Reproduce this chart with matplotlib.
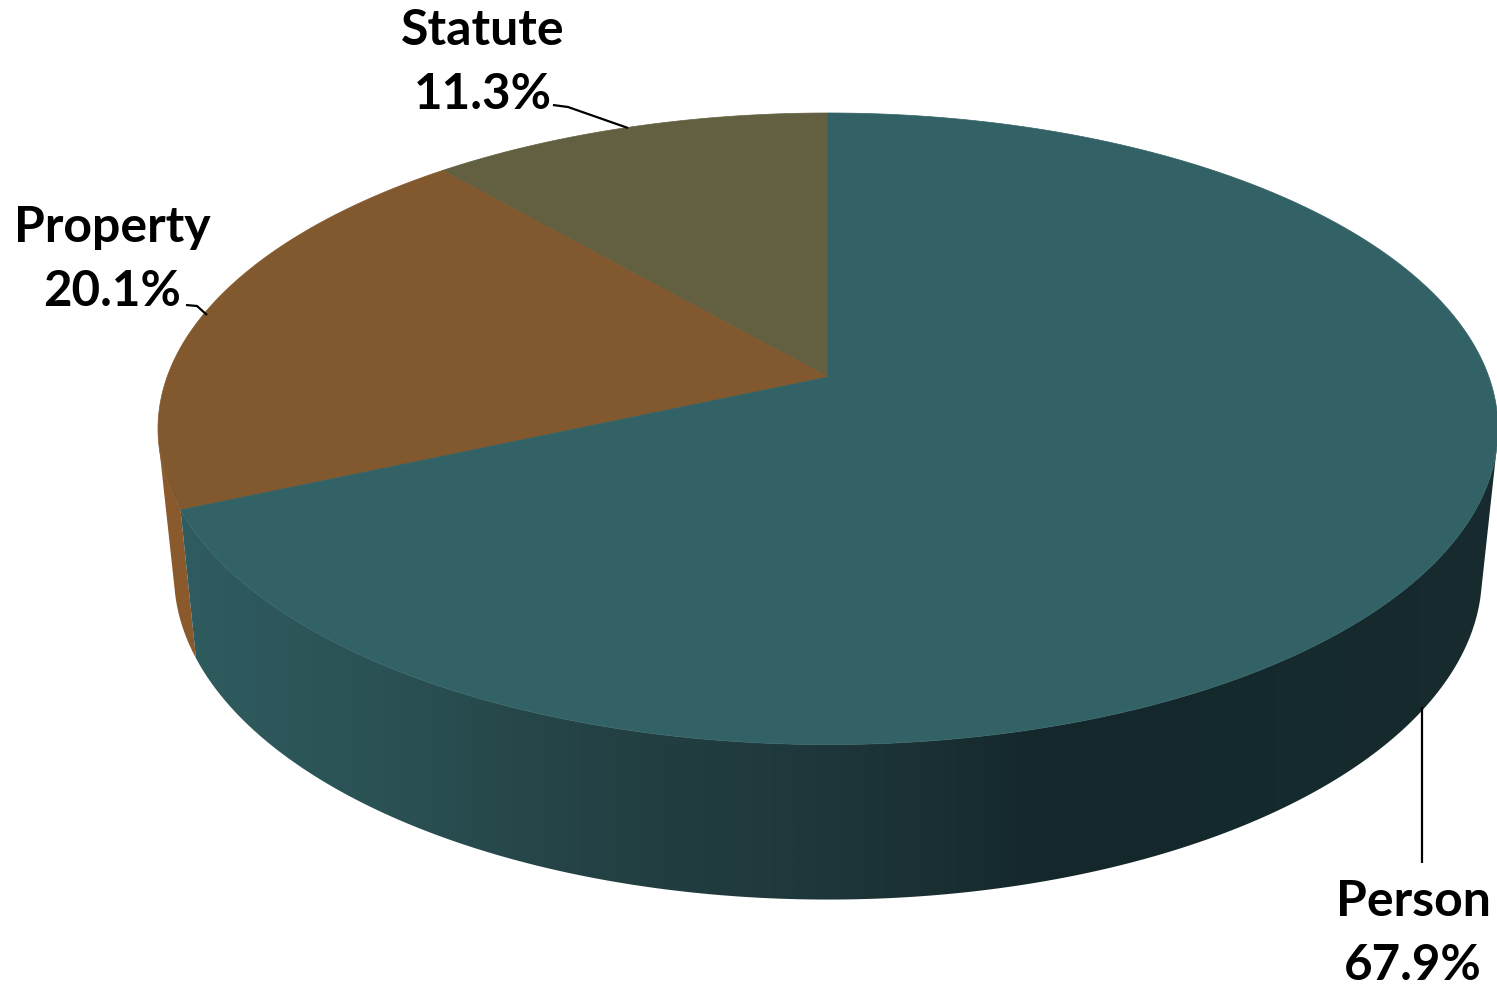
import numpy as np
import matplotlib
matplotlib.use('Agg')
import matplotlib.pyplot as plt
from matplotlib.colors import LinearSegmentedColormap
from matplotlib.patches import Polygon

# slices, counter-clockwise from 12 o'clock
names = ['Statute', 'Property', 'Person']
values = [11.3, 20.1, 67.9]
colors = ['#626040', '#82582E', '#326265']
label_pos = [(483, 45), (112, 242), (1413, 916)]
leaders = [[(553, 106), (568, 108), (628, 129)],
           [(186, 306), (197, 307), (207, 316)],
           [(1422, 708), (1422, 864)]]
wall_stops = ['#2F5C60', '#2A5053', '#234043', '#1E3639', '#14272A', '#152A2D', '#182B2E']

W, H = 1497, 987
cx, cy = 828, 431
rx, ry = 670, 316
low_cy, low_rx, low_ry = 577, 654, 325
k = 0.164
apex = 53


def rim(t, centre=cy, sx=rx, sy=ry):
    # perspective view of a flat disc, t in degrees clockwise from the top
    t = np.radians(t)
    u, v = np.sin(t), np.cos(t)
    w = 1 + k * v
    x = u * np.sqrt(1 - k ** 2) / w
    y = (v + apex / ry) / w
    return cx + x * sx, centre - y * sy


def wall_points(t0, t1):
    xa, ya = rim(np.linspace(t0, t1, 200))
    xb, yb = rim(np.linspace(t1, t0, 200), low_cy, low_rx, low_ry)
    return np.column_stack([np.r_[xa, xb], np.r_[ya, yb]])


fig = plt.figure(figsize=(W / 100, H / 100), dpi=100)
ax = fig.add_axes([0, 0, 1, 1])
ax.set_xlim(0, W)
ax.set_ylim(H, 0)
ax.axis('off')

shares = np.array(values) / sum(values) * 360
bounds = -np.cumsum(np.r_[0, shares])

# side walls
prop_end = bounds[2]
prop_wall = Polygon(wall_points(prop_end, -103), closed=True, fc='#8A5A2C', ec='none')
ax.add_patch(prop_wall)

person_wall = Polygon(wall_points(prop_end, -257), closed=True, fc='none', ec='none')
ax.add_patch(person_wall)
cmap = LinearSegmentedColormap.from_list('wall', wall_stops)
grad = ax.imshow(np.linspace(0, 1, 512)[None, :], cmap=cmap, aspect='auto',
                 extent=(180, 1497, H, 0), zorder=1)
grad.set_clip_path(person_wall)
ax.set_xlim(0, W)
ax.set_ylim(H, 0)

# top face
for i in range(3):
    xs, ys = rim(np.linspace(bounds[i], bounds[i + 1], 300))
    pts = np.column_stack([np.r_[cx, xs], np.r_[cy - apex, ys]])
    ax.add_patch(Polygon(pts, closed=True, fc=colors[i], ec=colors[i], lw=0.5, zorder=2))

# labels and leader lines
for i in range(3):
    line = np.array(leaders[i])
    ax.plot(line[:, 0], line[:, 1], color='black', lw=1.6, zorder=3, solid_capstyle='butt')
    x, y = label_pos[i]
    ax.text(x, y, names[i], family='Lato', weight='bold', fontsize=36,
            ha='center', va='baseline', color='black', zorder=4)
    ax.text(x, y + 64, f'{values[i]}%', family='Lato', weight='bold', fontsize=35.5,
            ha='center', va='baseline', color='black', zorder=4)

fig.savefig('out.png', dpi=100)
